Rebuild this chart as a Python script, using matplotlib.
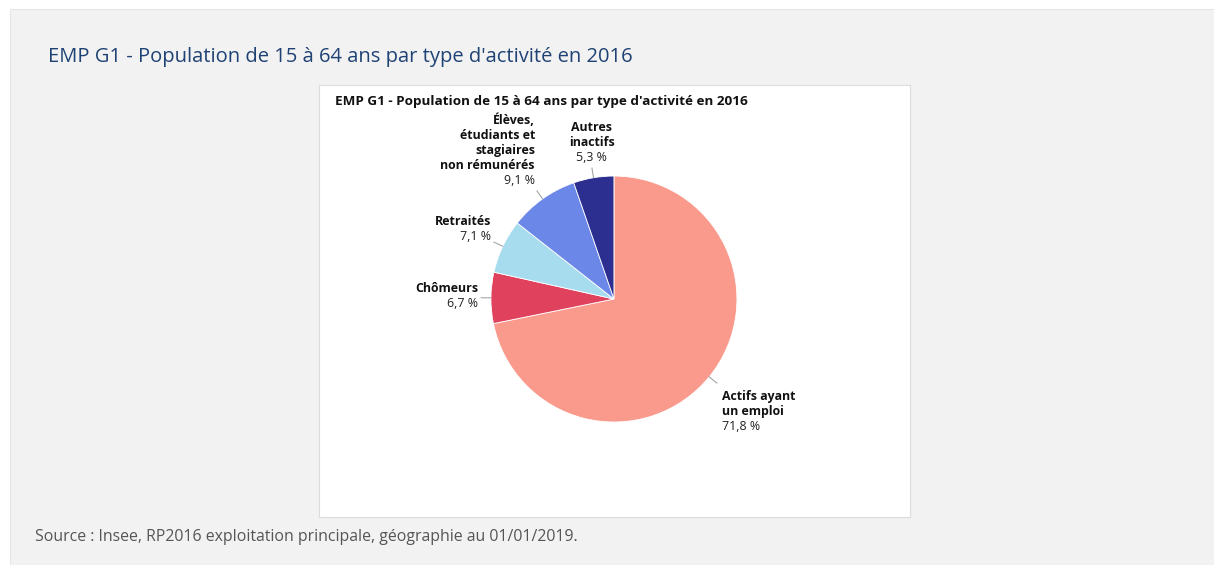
import numpy as np
import matplotlib.pyplot as plt
from matplotlib.patches import Rectangle

plt.rcParams['font.family'] = ['Open Sans', 'DejaVu Sans']

# répartition de la population de 15 à 64 ans (%)
labels = ["Actifs ayant\nun emploi", "Chômeurs", "Retraités",
          "Élèves,\nétudiants et\nstagiaires\nnon rémunérés", "Autres\ninactifs"]
values = [71.8, 6.7, 7.1, 9.1, 5.3]
colors = ["#f99a8c", "#e0415d", "#a7dcef", "#6b87e8", "#2c2f8f"]

fig = plt.figure(figsize=(12.14, 5.65), dpi=100)
fig.patch.set_facecolor("white")
bg = Rectangle((10 / 1214, 0), 1, (565 - 9) / 565, transform=fig.transFigure,
               facecolor="#f2f2f2", edgecolor="#e6e6e6", lw=0.8, zorder=-10)
fig.patches.append(bg)

fig.text(48 / 1214, 1 - 57 / 565, "EMP G1 - Population de 15 à 64 ans par type d'activité en 2016",
         color="#1f4274", fontsize=14.5, fontweight="medium", va="center", ha="left")
fig.text(35 / 1214, 1 - 537 / 565, "Source : Insee, RP2016 exploitation principale, géographie au 01/01/2019.",
         color="#555555", fontsize=11.4, va="center", ha="left")

ax = fig.add_axes([319 / 1214, (565 - 517) / 565, 591 / 1214, 432 / 565])
wedges, _ = ax.pie(values, colors=colors, startangle=90, counterclock=False, radius=1.0,
                   wedgeprops=dict(linewidth=0.6, edgecolor="white"))
ax.set_frame_on(True)
ax.set_facecolor("white")
for sp in ax.spines.values():
    sp.set_color("#dcdcdc")
ax.set_xticks([])
ax.set_yticks([])
ax.set_xlim(-2.398, 2.407)
ax.set_ylim(-1.772, 1.740)
ax.set_aspect("equal")

ax.text(0.027, 0.962, "EMP G1 - Population de 15 à 64 ans par type d'activité en 2016",
        transform=ax.transAxes, fontsize=9.7, fontweight="bold", color="#111111",
        ha="left", va="center")

# placement des étiquettes : (mode, alignement, décalage x, décalage y en pixels)
label_pos = [
    ("below", "left", 5, -7),
    ("center", "right", -3, 1),
    ("above", "right", -3, -1),
    ("above", "right", -2, 4),
    ("above", "center", 0, 4),
]
fs = 8.9
ls = 1.2

for w, lab, v, (mode, ha, dx, dy) in zip(wedges, labels, values, label_pos):
    ang = np.deg2rad((w.theta1 + w.theta2) / 2)
    x0, y0 = np.cos(ang), np.sin(ang)
    x1, y1 = 1.08 * x0, 1.08 * y0
    ax.plot([x0, x1], [y0, y1], color="#9a9a9a", lw=0.7)
    pct = f"{v:.1f} %".replace(".", ",")
    hx = {"left": 0, "center": 0.5, "right": 1}[ha]
    if mode == "below":
        t = ax.annotate(lab, xy=(x1, y1), xytext=(dx, dy), textcoords="offset pixels",
                        fontsize=fs, fontweight="bold", color="#111111",
                        ha=ha, va="top", linespacing=ls)
        ax.annotate(pct, xy=(hx, 0), xycoords=t, xytext=(0, -2), textcoords="offset pixels",
                    fontsize=fs, color="#222222", ha=ha, va="top")
    else:
        va = "top" if mode == "center" else "bottom"
        p = ax.annotate(pct, xy=(x1, y1), xytext=(dx, dy), textcoords="offset pixels",
                        fontsize=fs, color="#222222", ha=ha, va=va)
        ax.annotate(lab, xy=(hx, 1), xycoords=p, xytext=(0, 2), textcoords="offset pixels",
                    fontsize=fs, fontweight="bold", color="#111111",
                    ha=ha, va="bottom", linespacing=ls)

fig.savefig("out.png", dpi=100, facecolor=fig.get_facecolor())
